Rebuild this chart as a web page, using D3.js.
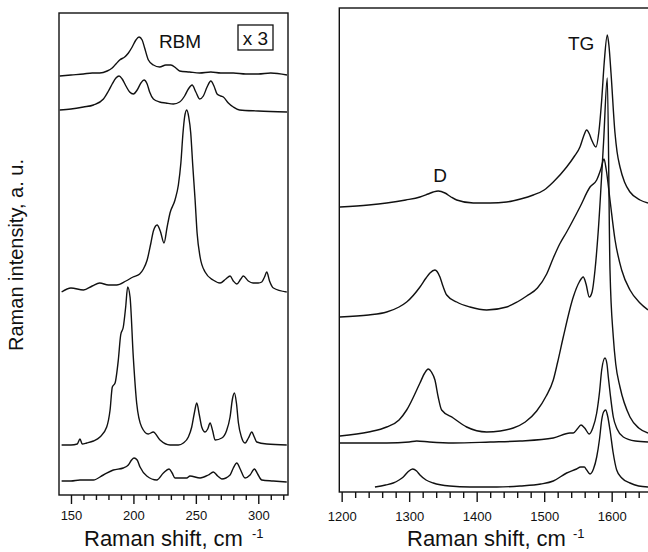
<!DOCTYPE html>
<html>
<head>
<meta charset="utf-8">
<script src="https://cdn.jsdelivr.net/npm/d3@7"></script>
<style>
body { margin: 0; background: #fff; }
text { font-family: "Liberation Sans", Arial, sans-serif; fill: #111; }
</style>
</head>
<body>
<svg id="chart" width="648" height="552"></svg>
<script>
// RBM spectra, [Raman shift cm-1, intensity a.u.] (top to bottom)
var rbm1 = [[141,419],[150,420],[160,421],[167,422],[173,422],[179,424],[183,427],[186,431],[189,435],[193,438],[196,442],[199,448],[202,455],[204.5,458],[207,455],[209,447],[212,435],[216,430],[221,428],[226,430],[230,430],[234,427],[237,424],[245,423],[253,422],[262,423],[270,422],[280,422],[290,421],[300,421],[310,422],[323,420]];
var rbm2 = [[141,385],[150,386],[160,388],[168,390],[176,396],[180,404],[183,411],[186,417],[188.5,419],[191,416],[194,409],[197,403],[200,401],[203,405],[206,412],[208.5,415],[211,411],[213,403],[216,396],[221,393],[226,392],[232,391],[237,393],[241,399],[244,406],[247,410],[250,403],[253,396],[256,399],[259,408],[262,414],[264.5,409],[267,401],[270,399],[272,398],[276,392],[280,388],[285,385],[300,384],[323,383]];
var rbm3 = [[142.5,203],[150,207],[160,205],[167,209],[173,212],[180,210],[186.6,210],[194,214],[199.7,218],[205,221],[208,226],[211,235],[214,252],[216,264],[219,270],[221.5,264],[224.5,252],[227,268],[229.3,282],[233.3,295],[236,310],[238,332],[239.7,362],[241,378],[242.7,385],[244.3,378],[245.9,362],[247.5,330],[249.4,295],[251,262],[253.4,238],[257.4,223],[263.8,215],[269.4,212],[274,216],[277.4,219],[280,214],[282.8,211],[286,216],[288,219],[292,214],[295.8,212],[300,212],[302.8,213],[305,218],[306.8,223],[309,214],[312.1,207],[322.8,203]];
var rbm4 = [[142.5,50],[150,50],[155,51],[157.2,56],[159,51],[162.6,52],[168,54],[173.2,58],[178.6,68],[181.3,85],[183.1,108],[185.3,112],[187.9,135],[189.8,160],[191.9,168],[193.8,188],[195.4,208],[197.3,198],[199.9,138],[202.6,92],[206.6,68],[211.9,61],[215.9,63],[221.3,55],[229.3,50],[236,50],[240,52],[244,58],[246.7,68],[248.8,82],[250.7,92],[252.8,80],[254.7,68],[257.4,63],[259.5,66],[261.4,72],[263.5,64],[265.4,55],[270.8,57],[274.5,64],[277.4,78],[279.3,96],[280.9,102],[282.5,92],[284.1,72],[286.5,58],[289.4,52],[292.1,57],[294.8,63],[296.8,58],[298.8,53],[306.8,51],[322.8,50]];
var rbm5 = [[142.5,14],[150,14],[157.2,15],[167.9,15],[175.9,20],[183.9,25],[191.9,27],[195.9,30],[198.5,35],[200.5,37],[203,35],[205.3,28],[210.7,19],[218.7,15],[224,22],[228.5,26],[231,22],[233.3,17],[242.7,17],[245.3,19],[253.4,17],[260,20],[264,23],[267.5,19],[270.8,16],[277.4,20],[280,27],[282.8,32],[285.5,26],[289.4,17],[293.4,20],[296.9,26],[299.5,21],[302.8,15],[312,14],[322.8,13]];

// D / G band spectra (top to bottom)
var tg1 = [[1197.5,285],[1240,287],[1266.7,289],[1295,292],[1316,295],[1328,298],[1335.7,300],[1343.1,301],[1353,299],[1362,295],[1370.4,292],[1395,289],[1420,289],[1444.4,290],[1465,293],[1483.9,297],[1500,302],[1513.5,310],[1533.3,325],[1545,336],[1553,345],[1558,355],[1563,362],[1567,358],[1570.4,352],[1576.7,345],[1581,360],[1585.2,392],[1589,430],[1593.5,457],[1596,446],[1599,419],[1604.9,359],[1608,340],[1612.3,325],[1619,310],[1627.1,300],[1642,292],[1653.8,289]];
var tg2 = [[1197.5,175],[1240,177],[1266.7,180],[1285,185],[1296.3,190],[1316,205],[1325,214],[1330.8,219],[1338.2,222],[1345.6,215],[1350,206],[1355.6,197],[1370.4,190],[1390.1,185],[1414.8,182],[1444.4,185],[1460,190],[1474.1,196],[1490,204],[1503.7,218],[1513.5,234],[1523,248],[1533.3,260],[1553,285],[1567.9,305],[1577.8,312],[1584,323],[1588.6,333],[1592,322],[1597.5,292],[1605,252],[1614.8,222],[1627.1,202],[1641.9,189],[1653.8,182]];
var tg3 = [[1197.5,56],[1240,60],[1266.7,65],[1285,72],[1296.3,82],[1316,109],[1323,119],[1328.3,123],[1333,120],[1338.2,112],[1343,95],[1348.1,82],[1365.3,74],[1385.2,65],[1414.8,60],[1435,61],[1454.2,64],[1472,70],[1488.9,81],[1503,96],[1513.5,112],[1520,130],[1528.3,155],[1543.1,195],[1552,210],[1557.9,215],[1562,208],[1566.8,195],[1571,200],[1575.3,222],[1580,260],[1588,350],[1593.5,414],[1597.5,222],[1602.4,155],[1606,128],[1612.3,105],[1627.1,75],[1640,64],[1653.8,59]];
var tg4 = [[1197.5,49],[1266.7,49],[1300,50],[1311.1,51],[1330,50],[1365.3,49],[1420,50],[1464.2,51],[1513.5,54],[1538.2,59],[1543.1,59],[1549,63],[1554.5,67],[1560,64],[1566.8,58],[1572,64],[1577.8,79],[1582,100],[1585.2,122],[1590.1,134],[1593,128],[1595,115],[1598,97],[1602.4,75],[1608,63],[1617.2,55],[1635,51],[1653.8,50]];
var tg5 = [[1249.3,5],[1265,7],[1276.4,9],[1285,12],[1291.3,15],[1298,20],[1305.2,23],[1311,21],[1316,17],[1325,12],[1335.7,9],[1360,6],[1390.1,5],[1430,5],[1464.2,6],[1495,8],[1513.5,11],[1533.3,19],[1548,23],[1554,25],[1559.4,25],[1563,22],[1567.9,18],[1573,23],[1577.8,35],[1582,53],[1585.2,72],[1588,80],[1591.1,82],[1594,76],[1597.5,62],[1602,40],[1607.4,22],[1615,14],[1627.1,9],[1640,6],[1653.8,5]];

var rbmMajor = [150, 200, 250, 300];
var rbmMinor = [160, 170, 180, 190, 210, 220, 230, 240, 260, 270, 280, 290, 310, 320];
var tgMajor = [1200, 1300, 1400, 1500, 1600];
var tgMinor = [1220, 1240, 1260, 1280, 1320, 1340, 1360, 1380, 1420, 1440, 1460, 1480, 1520, 1540, 1560, 1580, 1620, 1640];

var svg = d3.select("#chart");

// left panel
var xL = d3.scaleLinear().domain([140.4, 323.8]).range([59, 288]);
var yL = d3.scaleLinear().domain([0, 482]).range([495, 13]);
// right panel (frame runs off the right edge)
var xR = d3.scaleLinear().domain([1196.5, 1653.8]).range([339.3, 648]);
var yR = d3.scaleLinear().domain([0, 484]).range([492, 8]);

function drawPanel(x, y, series, major, minor, majLen, minLen, pad, frameRight) {
	var g = svg.append("g");
	var line = d3.line().x(function(d){ return x(d[0]); }).y(function(d){ return y(d[1]); }).curve(d3.curveMonotoneX);
	series.forEach(function(s){
		g.append("path").attr("d", line(s)).attr("fill", "none").attr("stroke", "#111").attr("stroke-width", 1.4);
	});
	var r = y.range();
	g.append("rect").attr("x", x.range()[0]).attr("y", r[1])
		.attr("width", frameRight - x.range()[0]).attr("height", r[0] - r[1])
		.attr("fill", "none").attr("stroke", "#111").attr("stroke-width", 1.4);

	var axMin = g.append("g").attr("transform", "translate(0," + r[0] + ")")
		.call(d3.axisBottom(x).tickValues(minor).tickSize(minLen).tickFormat(""));
	var axMaj = g.append("g").attr("transform", "translate(0," + r[0] + ")")
		.call(d3.axisBottom(x).tickValues(major).tickSize(majLen).tickPadding(pad).tickFormat(d3.format("d")));
	[axMin, axMaj].forEach(function(a){
		a.select(".domain").remove();
		a.selectAll("line").attr("stroke", "#111").attr("stroke-width", 1.4);
		a.selectAll("text").attr("font-size", 13).attr("font-family", "Liberation Sans, Arial, sans-serif").attr("fill", "#111");
	});
	return g;
}

drawPanel(xL, yL, [rbm1, rbm2, rbm3, rbm4, rbm5], rbmMajor, rbmMinor, 9, 5, 7, 288);
drawPanel(xR, yR, [tg1, tg2, tg3, tg4, tg5], tgMajor, tgMinor, 10, 6, 10, 700);

// axis titles with the -1 superscript
function xLabel(x0, supX) {
	svg.append("text").attr("x", x0).attr("y", 546).attr("font-size", 22).text("Raman shift, cm");
	svg.append("text").attr("x", supX).attr("y", 538).attr("font-size", 13).text("-1");
}
xLabel(84, 252);
xLabel(407, 573);

svg.append("text").attr("transform", "translate(23,255) rotate(-90)")
	.attr("text-anchor", "middle").attr("font-size", 20).text("Raman intensity, a. u.");

svg.append("text").attr("x", 180).attr("y", 48).attr("text-anchor", "middle").attr("font-size", 19).text("RBM");
svg.append("rect").attr("x", 238).attr("y", 25).attr("width", 35).attr("height", 25)
	.attr("fill", "none").attr("stroke", "#111").attr("stroke-width", 1.3);
svg.append("text").attr("x", 255.5).attr("y", 45).attr("text-anchor", "middle").attr("font-size", 19).text("x 3");
svg.append("text").attr("x", 568).attr("y", 50).attr("font-size", 19).text("TG");
svg.append("text").attr("x", 440).attr("y", 182).attr("text-anchor", "middle").attr("font-size", 19).text("D");
</script>
</body>
</html>
